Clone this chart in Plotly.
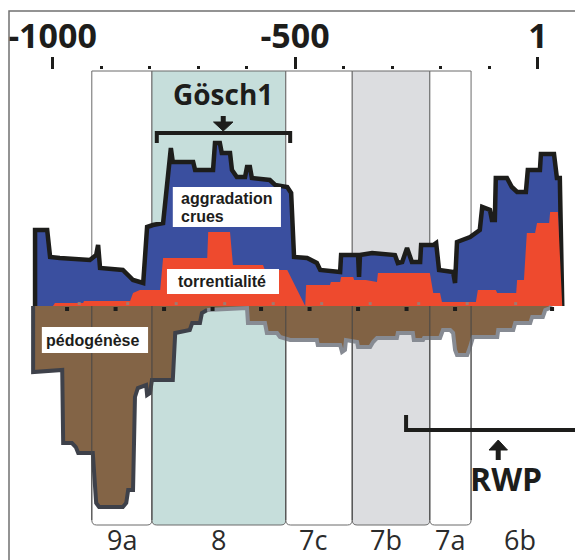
import plotly.graph_objects as go

# ---------------- data (years, relative index) ----------------
agg_years = [-1036, -1036, -1011, -1005, -985, -923, -910, -906, -902, -855, -834, -813, -805, -793, -772,
             -758, -756, -752, -710, -706, -669, -665, -655, -651, -634, -630, -620, -603, -599, -593, -589,
             -552, -541, -516, -508, -502, -475, -455, -448, -407, -405, -370, -368, -366, -341, -294, -288,
             -279, -269, -259, -242, -240, -215, -209, -203, -174, -170, -166, -139, -119, -114, -98, -94,
             -88, -86, -63, -53, -42, -24, -20, 5, 7, 34, 40, 46, 51]
agg_vals = [0, 38, 38, 24.5, 24, 23, 25.5, 30.5, 19, 18, 13, 11.5, 39.5, 40.5, 41.5,
            71.5, 79, 72, 72, 68, 68, 81.5, 81.5, 76.5, 76.5, 68, 64.5, 64.5, 69.5, 69.5, 64,
            63, 60.5, 59.5, 56.5, 24.5, 24, 21.5, 18, 17, 25.5, 25.5, 14.5, 25.5, 26.5, 25.5, 21.5,
            22, 29, 22, 22, 30.5, 30.5, 31.5, 18, 17, 11.5, 32, 34.5, 38, 49.5, 48, 43,
            43, 64, 64, 59.5, 57, 57, 68, 68, 76, 76, 64, 64, 0]

torr_years = [-999, -995, -937, -935, -840, -834, -820, -778, -772, -681, -679, -634, -628, -566, -562,
              -516, -479, -477, -428, -426, -407, -405, -380, -378, -354, -331, -329, -222, -215, -201,
              -197, -127, -123, -86, -83, -44, -42, -28, -22, -5, -1, 24, 26, 42, 51]
torr_vals = [0, 1.5, 1.5, 2.5, 2.5, 6.5, 8, 8, 24, 24, 37, 37, 20.5, 20.5, 18,
             18, 0, 10.5, 10.5, 12, 12, 14.5, 14.5, 13, 13, 12, 16.5, 16.5, 6.5, 6.5,
             2, 2, 8, 8, 6.5, 6.5, 13, 13, 36.5, 36.5, 41.5, 41.5, 47, 47, 0]

pedo_years = [-1040, -1040, -980, -978, -960, -952, -947, -917, -910, -904, -855, -848, -844, -834, -830,
              -824, -807, -805, -799, -795, -752, -747, -717, -712, -696, -692, -681, -599, -597, -562,
              -558, -537, -531, -510, -455, -453, -407, -403, -397, -395, -372, -370, -345, -339, -331,
              -290, -288, -257, -255, -236, -234, -201, -195, -180, -174, -170, -166, -145, -139, -133,
              -83, -81, -50, -46, -15, -11, 11, 16, 26, 28]
pedo_vals = [0, -33, -32, -68.5, -68.5, -70.5, -73.5, -73.5, -98.5, -100.5, -100.5, -98.5, -92, -92, -45.5,
             -41, -39.5, -44.5, -43.5, -37, -37, -13.5, -12, -8.5, -8.5, -3.5, -2, -1, -8.5, -8.5,
             -13.5, -13.5, -15.5, -17, -17, -19.5, -19.5, -23, -22, -17, -18, -20.5, -20.5, -18, -16,
             -16, -13.5, -13.5, -17, -17, -16, -16, -12, -12, -13.5, -22, -24.5, -24.5, -20.5, -15.5,
             -15.5, -12, -12, -8.5, -8.5, -5.5, -5.5, -2, -1, 0]

period_labels = ["9a", "8", "7c", "7b", "7a", "6b"]
period_start = [-919, -795, -519, -382, -222]
period_end = [-795, -519, -382, -222, -137]
period_fill = ["white", "#c6dedb", "white", "#dcdde0", "white"]
period_label_x = [-857, -657, -463, -312, -181, -36]

axis_tick_years = [-1000, -500, 1]
axis_tick_text = ["-1000", "-500", "1"]
minor_tick_years = [-900, -800, -700, -600, -400, -300, -200, -100]

base_mark_years = [-970, -870, -770, -670, -570, -470, -370, -270, -170, 30]
base_dot_years = [-945, -845, -745, -645, -545, -445, -345, -245, -145, -45]

gosch_span = [-785, -510]
gosch_arrow_x = -648
rwp_span = [-271, 92]
rwp_arrow_x = -81

# ---------------- style ----------------
BLUE = "#3a4f9f"
RED = "#ee4a2e"
BROWN = "rgba(122,88,56,0.93)"
BLACK = "#1d1d1b"
BOX_TOP, BOX_BOT = 117.5, -109.5
RX, RY = 10, 2.5
W, H, TOP = 575, 552, 62

fig = go.Figure()

# areas
fig.add_trace(go.Scatter(x=agg_years, y=agg_vals, mode="lines", fill="tozeroy",
                         fillcolor=BLUE, line=dict(color=BLACK, width=4.5), hoverinfo="skip"))
fig.add_trace(go.Scatter(x=torr_years, y=torr_vals, mode="lines", fill="tozeroy",
                         fillcolor=RED, line=dict(width=0), hoverinfo="skip"))
fig.add_trace(go.Scatter(x=pedo_years, y=pedo_vals, mode="lines", fill="tozeroy",
                         fillcolor=BROWN, line=dict(width=0), hoverinfo="skip"))
split = 27
fig.add_trace(go.Scatter(x=pedo_years[:split], y=pedo_vals[:split], mode="lines",
                         line=dict(color="#3e414a", width=4), hoverinfo="skip"))
fig.add_trace(go.Scatter(x=pedo_years[split - 1:], y=pedo_vals[split - 1:], mode="lines",
                         line=dict(color="#878b93", width=4), hoverinfo="skip"))
fig.add_trace(go.Scatter(x=base_mark_years, y=[-1.5] * len(base_mark_years), mode="markers",
                         marker=dict(symbol="square", size=4, color=BLACK), hoverinfo="skip"))
fig.add_trace(go.Scatter(x=base_dot_years, y=[1.2] * len(base_dot_years), mode="markers",
                         marker=dict(symbol="square", size=3, color="#a07a70"), hoverinfo="skip"))

shapes = []
# period boxes
for x0, x1, fc in zip(period_start, period_end, period_fill):
    path = (f"M {x0},{BOX_TOP} L {x0},{BOX_BOT + RY} Q {x0},{BOX_BOT} {x0 + RX},{BOX_BOT} "
            f"L {x1 - RX},{BOX_BOT} Q {x1},{BOX_BOT} {x1},{BOX_BOT + RY} L {x1},{BOX_TOP} Z")
    shapes.append(dict(type="path", path=path, xref="x", yref="y", fillcolor=fc,
                       line=dict(color="#6a6a6a", width=1), layer="below"))
# box edges visible through the brown
for xb in sorted(set(period_start + period_end)):
    shapes.append(dict(type="line", x0=xb, x1=xb, y0=0, y1=BOX_BOT + RY, xref="x", yref="y",
                       line=dict(color="#4a4a4a", width=1), layer="above"))
# Gösch1 bracket + arrow
g0, g1 = gosch_span
shapes.append(dict(type="path", path=f"M {g0},81.5 L {g0},86.5 L {g1},86.5 L {g1},81.5",
                   line=dict(color=BLACK, width=4), xref="x", yref="y", layer="above"))
shapes.append(dict(type="line", x0=gosch_arrow_x, x1=gosch_arrow_x, y0=95, y1=91.5,
                   line=dict(color=BLACK, width=5), xref="x", yref="y", layer="above"))
shapes.append(dict(type="path",
                   path=f"M {gosch_arrow_x - 20},92 L {gosch_arrow_x + 20},92 L {gosch_arrow_x},87.5 Z",
                   fillcolor=BLACK, line=dict(color=BLACK, width=1), xref="x", yref="y", layer="above"))
# RWP bracket + arrow
r0, r1 = rwp_span
shapes.append(dict(type="path", path=f"M {r0},-54.5 L {r0},-62 L {r1},-62 L {r1},-54.5",
                   line=dict(color=BLACK, width=4), xref="x", yref="y", layer="above"))
shapes.append(dict(type="line", x0=rwp_arrow_x, x1=rwp_arrow_x, y0=-71, y1=-77,
                   line=dict(color=BLACK, width=5), xref="x", yref="y", layer="above"))
shapes.append(dict(type="path",
                   path=f"M {rwp_arrow_x - 19},-72 L {rwp_arrow_x + 19},-72 L {rwp_arrow_x},-67 Z",
                   fillcolor=BLACK, line=dict(color=BLACK, width=1), xref="x", yref="y", layer="above"))
# white label boxes
for (bx0, bx1, by0, by1) in [(-752, -529, 39.5, 59.5), (-764, -533, 6, 18.5), (-1022, -803, -23.5, -10.5)]:
    shapes.append(dict(type="rect", x0=bx0, x1=bx1, y0=by0, y1=by1, xref="x", yref="y",
                       fillcolor="white", line=dict(width=0), layer="above"))
# outer frame
shapes.append(dict(type="rect", xref="paper", yref="paper", x0=1 / W, x1=1.02, y0=-0.05,
                   y1=(H - 3) / (H - TOP),
                   line=dict(color="#707070", width=1.5), fillcolor="rgba(0,0,0,0)", layer="above"))

ann = []
BOLD_SANS = "Liberation Sans"
for t, xa, ya in [("aggradation", -739, 54), ("crues", -739, 45), ("torrentialité", -745, 12.5),
                  ("pédogénèse", -1018, -17)]:
    ann.append(dict(text=t, x=xa, y=ya, xref="x", yref="y", xanchor="left", yanchor="middle",
                    showarrow=False, font=dict(family=BOLD_SANS, size=16, color=BLACK, weight="bold")))
ann.append(dict(text="Gösch1", x=gosch_arrow_x, y=106, xref="x", yref="y", showarrow=False,
                font=dict(family="Open Sans", size=28, color=BLACK, weight="bold")))
ann.append(dict(text="RWP", x=-65, y=-86, xref="x", yref="y", showarrow=False,
                font=dict(family="Open Sans", size=32, color=BLACK, weight="bold")))
for lab, lx in zip(period_labels, period_label_x):
    ann.append(dict(text=lab, x=lx, y=-116.5, xref="x", yref="y", showarrow=False, borderpad=0,
                    font=dict(family="Open Sans", size=27, color="#2b2b2b")))

fig.update_layout(
    width=W, height=H, autosize=False,
    margin=dict(l=0, r=0, t=TOP, b=0, pad=0),
    paper_bgcolor="white", plot_bgcolor="white",
    showlegend=False, shapes=shapes, annotations=ann,
    xaxis=dict(range=[-1091.8, 93.8], side="top", showgrid=False, zeroline=False, showline=False,
               tickmode="array", tickvals=axis_tick_years, ticktext=axis_tick_text,
               ticks="outside", ticklen=12, tickwidth=3, tickcolor=BLACK,
               ticklabelstandoff=-5,
               tickfont=dict(family="Open Sans", size=34, color=BLACK, weight="bold"),
               minor=dict(tickmode="array", tickvals=minor_tick_years, ticks="outside",
                          ticklen=3, tickwidth=3, tickcolor=BLACK),
               automargin=False, fixedrange=True),
    yaxis=dict(range=[-127, 118], visible=False, automargin=False, fixedrange=True),
)

fig.write_html("out.html")
